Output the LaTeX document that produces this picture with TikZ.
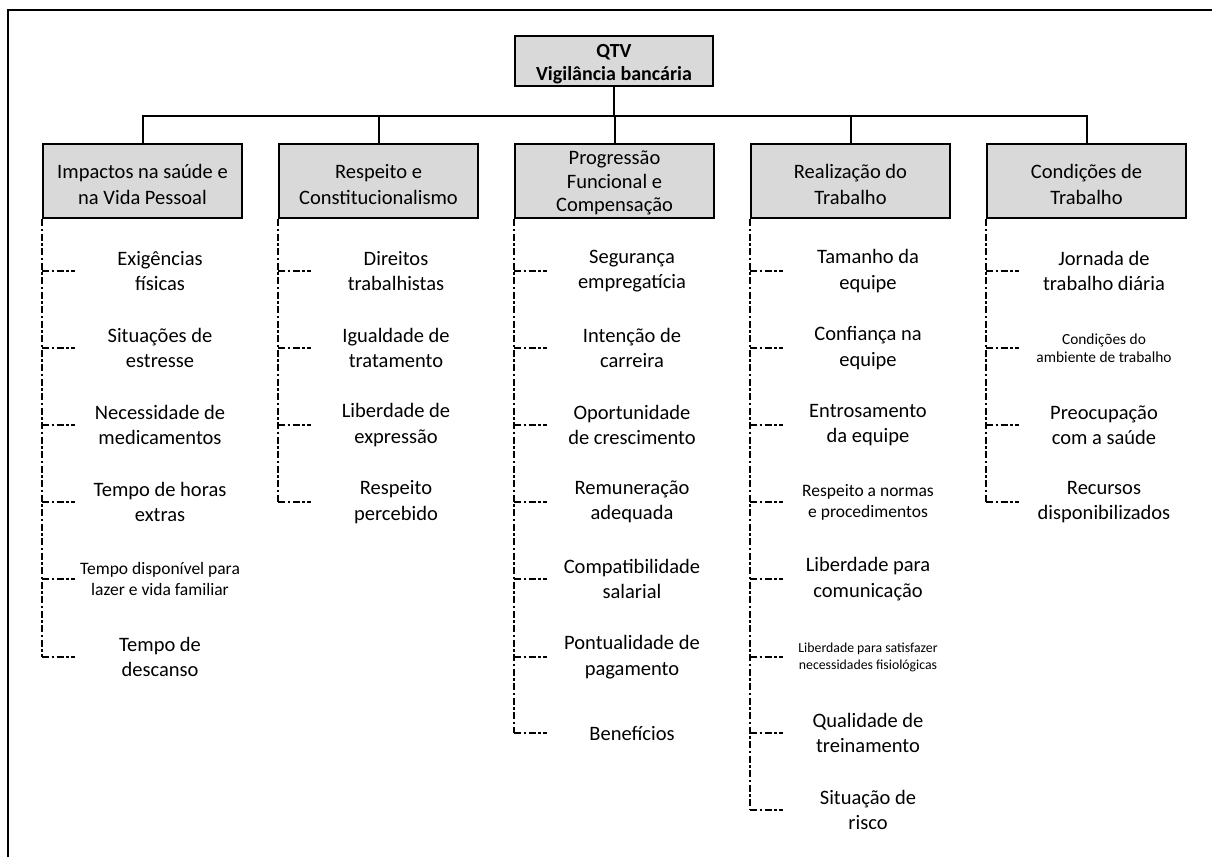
\documentclass[tikz,border=0pt]{standalone}
\usepackage{fontspec}
\setmainfont{Carlito}
\definecolor{boxgray}{HTML}{D9D9D9}
\newcommand{\toppad}[1]{\rule{0pt}{#1}}
\begin{document}
\begin{tikzpicture}[x=1pt,y=-1pt,
  frameline/.style={line width=2pt},
  topbox/.style={draw, line width=2pt, fill=boxgray, minimum width=198pt, minimum height=50pt, inner sep=0pt, align=center, font=\fontsize{20}{23}\selectfont\bfseries},
  catbox/.style={draw, line width=2pt, fill=boxgray, minimum width=199pt, minimum height=74pt, inner sep=0pt, align=center, font=\fontsize{20.5}{26.5}\selectfont},
  leaf/.style={align=center, inner sep=0pt, font=\fontsize{20.5}{25.5}\selectfont},
  leafm/.style={align=center, inner sep=0pt, font=\fontsize{17.5}{21}\selectfont},
  leafs/.style={align=center, inner sep=0pt, font=\fontsize{15.4}{18.5}\selectfont},
  leafxs/.style={align=center, inner sep=0pt, font=\fontsize{13.8}{17}\selectfont},
  busline/.style={line width=2pt},
  dashline/.style={line width=1.8pt, dash pattern=on 7pt off 2.5pt on 2.5pt off 2.5pt}
]
\useasboundingbox (0,0) rectangle (1212,857);
\draw[frameline] (8,857) -- (8,10) -- (1212,10);

\node[topbox] (top) at (614,61) {\toppad{20pt}QTV\\Vigilância bancária};
\coordinate (bus) at (614,116);

\node[catbox] (c1) at (142.5,181) {\toppad{21pt}Impactos na saúde e\\na Vida Pessoal};
\node[catbox] (c2) at (378.5,181) {\toppad{21pt}Respeito e\\Constitucionalismo};
\node[catbox, font=\fontsize{20.5}{23.5}\selectfont] (c3) at (614.5,181) {\toppad{18pt}Progressão\\Funcional e\\Compensação};
\node[catbox] (c4) at (850.5,181) {\toppad{21pt}Realização do\\Trabalho};
\node[catbox] (c5) at (1086.5,181) {\toppad{21pt}Condições de\\Trabalho};

\draw[busline] (top.south) -- (bus);
\foreach \i in {1,...,5} \draw[busline] (bus) -| (c\i.north);

% column 1
\node[leaf]  (l1a) at (160,271) {Exigências\\físicas};
\node[leaf]  (l1b) at (160,348) {Situações de\\estresse};
\node[leaf]  (l1c) at (160,425) {Necessidade de\\medicamentos};
\node[leaf]  (l1d) at (160,502) {Tempo de horas\\extras};
\node[leafm] (l1e) at (160,579) {Tempo disponível para\\lazer e vida familiar};
\node[leaf]  (l1f) at (160,657) {Tempo de\\descanso};
% column 2
\node[leaf] (l2a) at (396,271) {Direitos\\trabalhistas};
\node[leaf] (l2b) at (396,348) {Igualdade de\\tratamento};
\node[leaf] (l2c) at (396,425) {Liberdade de\\expressão};
\node[leaf] (l2d) at (396,502) {Respeito\\percebido};
% column 3
\node[leaf] (l3a) at (632,271) {Segurança\\empregatícia};
\node[leaf] (l3b) at (632,348) {Intenção de\\carreira};
\node[leaf] (l3c) at (632,425) {Oportunidade\\de crescimento};
\node[leaf] (l3d) at (632,502) {Remuneração\\adequada};
\node[leaf] (l3e) at (632,579) {Compatibilidade\\salarial};
\node[leaf] (l3f) at (632,657) {Pontualidade de\\pagamento};
\node[leaf] (l3g) at (632,733) {Benefícios};
% column 4
\node[leaf]   (l4a) at (868,271) {Tamanho da\\equipe};
\node[leaf]   (l4b) at (868,348) {Confiança na\\equipe};
\node[leaf]   (l4c) at (868,425) {Entrosamento\\da equipe};
\node[leafm]  (l4d) at (868,502) {Respeito a normas\\e procedimentos};
\node[leaf]   (l4e) at (868,579) {Liberdade para\\comunicação};
\node[leafxs] (l4f) at (868,657) {Liberdade para satisfazer\\necessidades fisiológicas};
\node[leaf]   (l4g) at (868,733) {Qualidade de\\treinamento};
\node[leaf]   (l4h) at (868,810) {Situação de\\risco};
% column 5
\node[leaf]  (l5a) at (1104,271) {Jornada de\\trabalho diária};
\node[leafs] (l5b) at (1104,348) {Condições do\\ambiente de trabalho};
\node[leaf]  (l5c) at (1104,425) {Preocupação\\com a saúde};
\node[leaf]  (l5d) at (1104,502) {Recursos\\disponibilizados};

% dashed trunks
\draw[dashline] (c1.south west) -- (c1.south west |- l1f);
\draw[dashline] (c2.south west) -- (c2.south west |- l2d);
\draw[dashline] (c3.south west) -- (c3.south west |- l3g);
\draw[dashline] (c4.south west) -- (c4.south west |- l4h);
\draw[dashline] (c5.south west) -- (c5.south west |- l5d);
% stubs
\foreach \l in {a,b,c,d,e,f} \draw[dashline] (c1.south west |- l1\l) -- ++(33,0);
\foreach \l in {a,b,c,d} \draw[dashline] (c2.south west |- l2\l) -- ++(33,0);
\foreach \l in {a,b,c,d,e,f,g} \draw[dashline] (c3.south west |- l3\l) -- ++(33,0);
\foreach \l in {a,b,c,d,e,f,g,h} \draw[dashline] (c4.south west |- l4\l) -- ++(33,0);
\foreach \l in {a,b,c,d} \draw[dashline] (c5.south west |- l5\l) -- ++(33,0);
\end{tikzpicture}
\end{document}
